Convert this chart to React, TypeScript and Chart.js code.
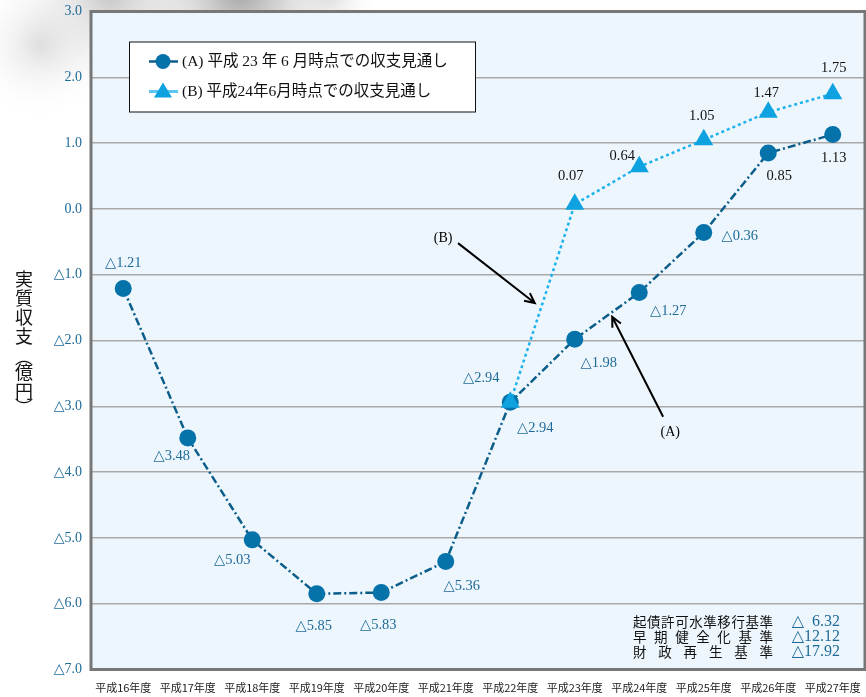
import React, { useEffect, useRef } from 'react';
import { Chart, registerables } from 'chart.js';

Chart.register(...registerables);

const categories = ['平成16年度', '平成17年度', '平成18年度', '平成19年度', '平成20年度', '平成21年度', '平成22年度', '平成23年度', '平成24年度', '平成25年度', '平成26年度', '平成27年度'];
const seriesA: (number | null)[] = [-1.21, -3.48, -5.03, -5.85, -5.83, -5.36, -2.94, -1.98, -1.27, -0.36, 0.85, 1.13];
const seriesB: (number | null)[] = [null, null, null, null, null, null, -2.94, 0.07, 0.64, 1.05, 1.47, 1.75];
const legendA = '(A) 平成 23 年 6 月時点での収支見通し';
const legendB = '(B) 平成24年6月時点での収支見通し';
const yMin = -7;
const yMax = 3;
const yStep = 1;
const yTitleChars = ['実', '質', '収', '支', '︵', '億', '円', '︶'];
const standardNames = ['起債許可水準移行基準', '早期健全化基準', '財政再生基準'];
const standardValues = [-6.32, -12.12, -17.92];
// label offsets (pixels from the point)
const offsetsA = [[0, -25], [-16, 18], [-20, 20], [-3, 32], [-3, 33], [16, 25], [-29, -24], [24, 24], [29, 19], [36, 4], [11, 23], [1, 24]];
const offsetsB = [[0, 0], [0, 0], [0, 0], [0, 0], [0, 0], [0, 0], [25, 26], [-4, -28], [-17, -11], [-2, -24], [-2, -19], [1, -26]];
// arrow annotations in data coordinates (category index, value)
const arrowB = { label: '(B)', text: [4.96, -0.44], from: [5.19, -0.52], to: [6.38, -1.43] };
const arrowA = { label: '(A)', text: [8.48, -3.39], from: [8.37, -3.16], to: [7.58, -1.64] };

const SERIF = '"Liberation Serif", "DejaVu Serif", "Noto Sans CJK JP", serif';
const MIXED = '"Liberation Serif", "Noto Sans CJK JP", serif';
const CJK = '"Noto Sans CJK JP", sans-serif';
const BLUE_TXT = '#1f6b98';
const A_LINE = '#0c5e8a';
const A_PT = '#0572aa';
const B_LINE = '#1cb2ec';
const B_PT = '#0ea2e0';

const fmt = (v: number, d: number) => (v < 0 ? '△' + Math.abs(v).toFixed(d) : v.toFixed(d));

const decorPlugin = {
  id: 'decor',
  beforeDraw(chart: any) {
    const { ctx, chartArea: ca } = chart;
    ctx.save();
    const blobs = [
      [240, -10, 130, 'rgba(100,100,100,0.6)'],
      [110, -5, 110, 'rgba(130,130,130,0.45)'],
      [40, 45, 75, 'rgba(165,165,165,0.35)'],
      [330, -5, 50, 'rgba(160,160,160,0.3)'],
    ];
    for (const [x, y, r, c] of blobs as any) {
      const g = ctx.createRadialGradient(x, y, 0, x, y, r);
      g.addColorStop(0, c);
      g.addColorStop(1, 'rgba(255,255,255,0)');
      ctx.fillStyle = g;
      ctx.fillRect(x - r, y - r, 2 * r, 2 * r);
    }
    ctx.fillStyle = '#eef6fd';
    ctx.fillRect(ca.left, ca.top, ca.right - ca.left, ca.bottom - ca.top);
    ctx.restore();
  },
  beforeDatasetsDraw(chart: any) {
    const { ctx, chartArea: ca, scales } = chart;
    ctx.save();
    ctx.strokeStyle = '#777';
    ctx.lineWidth = 3;
    ctx.strokeRect(ca.left, ca.top, ca.right - ca.left, ca.bottom - ca.top);
    for (const a of [arrowB, arrowA]) {
      const x1 = scales.x.getPixelForValue(a.from[0]);
      const y1 = scales.y.getPixelForValue(a.from[1]);
      const x2 = scales.x.getPixelForValue(a.to[0]);
      const y2 = scales.y.getPixelForValue(a.to[1]);
      ctx.strokeStyle = '#000';
      ctx.lineWidth = 2;
      ctx.beginPath();
      ctx.moveTo(x1, y1);
      ctx.lineTo(x2, y2);
      const ang = Math.atan2(y2 - y1, x2 - x1);
      const h = 11;
      ctx.moveTo(x2 - h * Math.cos(ang - 0.45), y2 - h * Math.sin(ang - 0.45));
      ctx.lineTo(x2, y2);
      ctx.lineTo(x2 - h * Math.cos(ang + 0.45), y2 - h * Math.sin(ang + 0.45));
      ctx.stroke();
      ctx.fillStyle = '#000';
      ctx.font = '14px ' + SERIF;
      ctx.textAlign = 'center';
      ctx.textBaseline = 'middle';
      ctx.fillText(a.label, scales.x.getPixelForValue(a.text[0]), scales.y.getPixelForValue(a.text[1]));
    }
    ctx.restore();
  },
  afterDatasetsDraw(chart: any) {
    const { ctx, chartArea: ca } = chart;
    ctx.save();
    ctx.textAlign = 'center';
    ctx.textBaseline = 'middle';
    ctx.font = '14.5px ' + SERIF;
    const sets: [number, (number | null)[], number[][]][] = [[0, seriesA, offsetsA], [1, seriesB, offsetsB]];
    for (const [di, data, offs] of sets) {
      const meta = chart.getDatasetMeta(di);
      data.forEach((v, i) => {
        if (v === null) return;
        const p = meta.data[i];
        ctx.fillStyle = v < 0 ? BLUE_TXT : '#111';
        ctx.fillText(fmt(v, 2), p.x + offs[i][0], p.y + offs[i][1]);
      });
    }
    // legend
    const lx = ca.left + 38, ly = ca.top + 30, lw = 346, lh = 70;
    ctx.fillStyle = '#fff';
    ctx.fillRect(lx, ly, lw, lh);
    ctx.strokeStyle = '#111';
    ctx.lineWidth = 1;
    ctx.strokeRect(lx + 0.5, ly + 0.5, lw, lh);
    const r1 = ly + 20, r2 = ly + 50;
    ctx.lineWidth = 2.5;
    ctx.strokeStyle = A_LINE;
    ctx.beginPath(); ctx.moveTo(lx + 20, r1); ctx.lineTo(lx + 49, r1); ctx.stroke();
    ctx.fillStyle = A_PT;
    ctx.beginPath(); ctx.arc(lx + 34, r1, 7.5, 0, Math.PI * 2); ctx.fill();
    ctx.strokeStyle = '#5cc6f0';
    ctx.lineWidth = 3;
    ctx.beginPath(); ctx.moveTo(lx + 20, r2); ctx.lineTo(lx + 49, r2); ctx.stroke();
    ctx.fillStyle = B_PT;
    ctx.beginPath(); ctx.moveTo(lx + 34, r2 - 9); ctx.lineTo(lx + 43, r2 + 6); ctx.lineTo(lx + 25, r2 + 6); ctx.closePath(); ctx.fill();
    ctx.fillStyle = '#111';
    ctx.font = '15.5px ' + MIXED;
    ctx.textAlign = 'left';
    ctx.fillText(legendA, lx + 53, r1);
    ctx.fillText(legendB, lx + 53, r2);
    // standards text
    const left = ca.right - 232, right = ca.right - 92;
    const numRight = ca.right - 25;
    standardNames.forEach((name, k) => {
      const y = ca.bottom - 48 + k * 15;
      ctx.font = '13.5px ' + CJK;
      const chars = name.split('');
      const widths = chars.map((c) => ctx.measureText(c).width);
      const total = widths.reduce((s, w) => s + w, 0);
      const gap = chars.length > 1 ? (right - left - total) / (chars.length - 1) : 0;
      let x = left;
      ctx.fillStyle = '#111';
      ctx.textAlign = 'left';
      chars.forEach((c, j) => { ctx.fillText(c, x, y); x += widths[j] + gap; });
      ctx.fillStyle = BLUE_TXT;
      ctx.font = '16px ' + SERIF;
      const wNum = ctx.measureText('00.00').width;
      const wTri = ctx.measureText('△').width;
      ctx.textAlign = 'left';
      ctx.fillText('△', numRight - wNum - wTri, y);
      ctx.textAlign = 'right';
      ctx.fillText(Math.abs(standardValues[k]).toFixed(2), numRight, y);
    });
    // y title (vertical)
    ctx.fillStyle = '#111';
    ctx.font = '18px ' + CJK;
    ctx.textAlign = 'center';
    let ty = 279;
    for (const c of yTitleChars) {
      if (c === '︵' || c === '︶') {
        ctx.fillText(c, 24, ty + (c === '︵' ? 2 : -3));
        ty += 17;
      } else {
        ctx.fillText(c, 24, ty);
        ty += 19;
      }
    }
    ctx.restore();
  },
};

export default function App() {
  const ref = useRef<HTMLCanvasElement>(null);
  useEffect(() => {
    if (!ref.current) return;
    const chart = new Chart(ref.current, {
      type: 'line',
      data: {
        labels: categories,
        datasets: [
          {
            label: legendA,
            data: seriesA,
            borderColor: A_LINE,
            borderWidth: 2.5,
            borderDash: [8, 3, 2, 3],
            pointStyle: 'circle',
            pointRadius: 8.5,
            pointBackgroundColor: A_PT,
            pointBorderColor: A_PT,
            pointBorderWidth: 0,
            tension: 0,
            order: 1,
          },
          {
            label: legendB,
            data: seriesB,
            borderColor: B_LINE,
            borderWidth: 2.5,
            borderDash: [3, 3],
            pointStyle: 'triangle',
            pointRadius: 11,
            pointBackgroundColor: B_PT,
            pointBorderColor: B_PT,
            pointBorderWidth: 0,
            tension: 0,
            spanGaps: false,
            order: 0,
          },
        ],
      },
      options: {
        responsive: false,
        animation: false,
        devicePixelRatio: 1,
        layout: { autoPadding: false, padding: { top: 11.5, right: 1, left: 0, bottom: 0 } },
        plugins: { legend: { display: false }, tooltip: { enabled: false } },
        scales: {
          x: {
            type: 'category',
            offset: true,
            grid: { display: false, drawTicks: false },
            border: { display: false },
            ticks: { color: '#222', font: { family: CJK, size: 11 }, padding: 12, maxRotation: 0, autoSkip: false },
            afterFit: (s: any) => { s.height = 27.5; s.paddingLeft = 0; s.paddingRight = 0; },
          },
          y: {
            min: yMin,
            max: yMax,
            grid: { color: '#a9a9a9', lineWidth: 1.5, drawTicks: false },
            border: { display: false },
            ticks: {
              stepSize: yStep,
              color: BLUE_TXT,
              padding: 9,
              font: { family: SERIF, size: 14 },
              callback: (v: any) => fmt(Number(v), 1),
            },
            afterFit: (s: any) => { s.width = 91; s.paddingTop = 0; s.paddingBottom = 0; },
          },
        },
      },
      plugins: [decorPlugin],
    } as any);
    return () => chart.destroy();
  }, []);
  return (
    <div style={{ position: 'absolute', left: 0, top: 0, width: 866, height: 697, background: '#fff' }}>
      <canvas ref={ref} width={866} height={697} style={{ display: 'block' }} />
    </div>
  );
}
